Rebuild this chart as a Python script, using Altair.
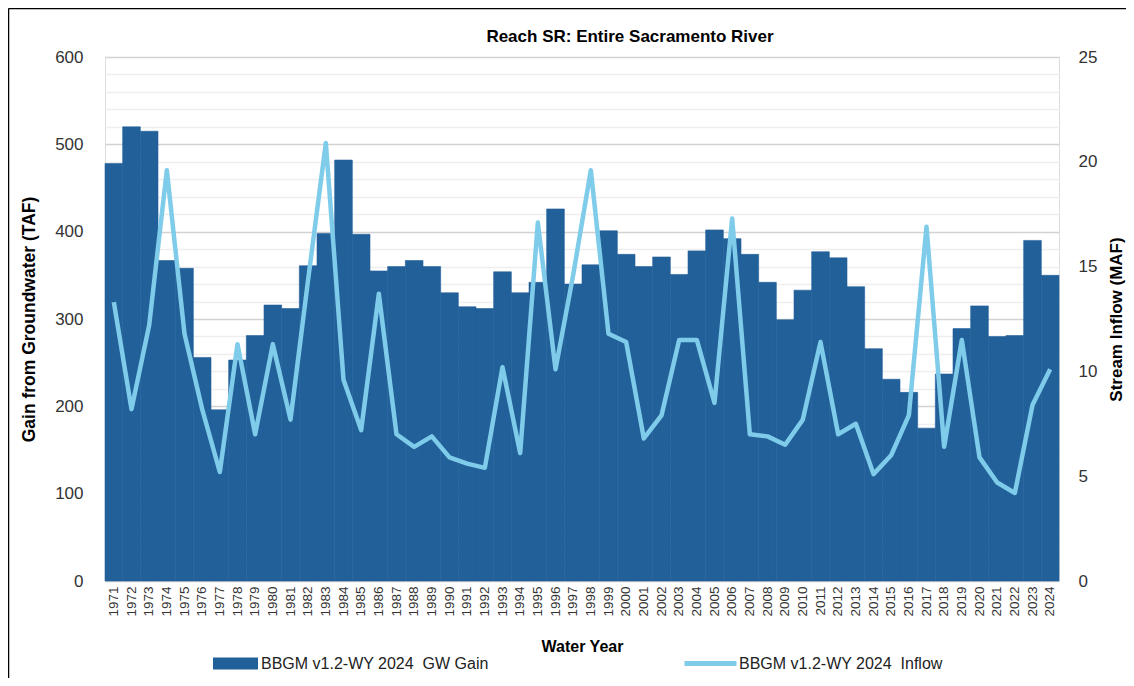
import altair as alt
import pandas as pd

years = list(range(1971, 2025))
gw_gain = [478, 520, 515, 367, 358, 256, 196, 253, 281, 316,
           312, 361, 398, 482, 397, 355, 360, 367, 360, 330,
           314, 312, 354, 330, 342, 426, 340, 362, 401, 374,
           360, 371, 351, 378, 402, 392, 374, 342, 299, 333,
           377, 370, 337, 266, 231, 216, 175, 237, 289, 315,
           280, 281, 390, 350]
inflow = [13.3, 8.2, 12.2, 19.6, 11.8, 8.2, 5.2, 11.3, 7.0, 11.3,
          7.7, 14.4, 20.9, 9.6, 7.2, 13.7, 7.0, 6.4, 6.9, 5.9,
          5.6, 5.4, 10.2, 6.1, 17.1, 10.1, 14.6, 19.6, 11.8, 11.4,
          6.8, 7.9, 11.5, 11.5, 8.5, 17.3, 7.0, 6.9, 6.5, 7.7,
          11.4, 7.0, 7.5, 5.1, 6.0, 7.9, 16.9, 6.4, 11.5, 5.9,
          4.7, 4.2, 8.4, 10.1]
series_gain = "BBGM v1.2-WY 2024\u00a0\u00a0GW Gain"
series_inflow = "BBGM v1.2-WY 2024\u00a0\u00a0Inflow"
chart_title = "Reach SR: Entire Sacramento River"
left_ticks = list(range(0, 601, 20))
right_ticks = [0, 5, 10, 15, 20, 25]

BAR = "#22609A"
LINE = "#7FCBEA"
FONT = "Liberation Sans"

df = pd.DataFrame({
    "Year": [str(y) for y in years],
    "Gain": gw_gain,
    "Inflow": inflow,
    "s1": series_gain,
    "s2": series_inflow,
})

x_enc = alt.X(
    "Year:O",
    scale=alt.Scale(paddingInner=0, paddingOuter=0),
    axis=alt.Axis(
        title="Water Year", labelAngle=270, labelFont=FONT, labelFontSize=13.5,
        labelColor="#333333", labelPadding=5, ticks=False, domain=False,
        titleFont=FONT, titleFontSize=16, titleFontWeight="bold",
        titleColor="#000000", titlePadding=22,
    ),
)

bars = alt.Chart(df).mark_bar(stroke=BAR, strokeWidth=0.6).encode(
    x=x_enc,
    y=alt.Y(
        "Gain:Q",
        scale=alt.Scale(domain=[0, 600], nice=False),
        axis=alt.Axis(
            title="Gain from Groundwater (TAF)", values=left_ticks,
            labelExpr="datum.value % 100 === 0 ? datum.label : ''",
            gridColor={"condition": {"test": "datum.value % 100 === 0", "value": "#D2D2D2"}, "value": "#EEEEEE"},
            gridWidth=1.5, ticks=False, domain=False,
            labelFont=FONT, labelFontSize=17, labelColor="#333333", labelPadding=22,
            titleFont=FONT, titleFontSize=17.5, titleFontWeight="bold",
            titleColor="#000000", titlePadding=16,
        ),
    ),
    fill=alt.Fill(
        "s1:N", scale=alt.Scale(range=[BAR]),
        legend=alt.Legend(
            title=None, orient="none", legendX=108, legendY=584,
            symbolType="M-1,-0.27H1V0.27H-1Z", symbolSize=2025, symbolStrokeWidth=0,
            labelFont=FONT, labelFontSize=16, labelColor="#222222", labelOffset=3,
            labelLimit=0, padding=0,
        ),
    ),
)

line = alt.Chart(df).mark_line(strokeWidth=4.5, strokeJoin="round").encode(
    x=alt.X("Year:O"),
    y=alt.Y(
        "Inflow:Q",
        scale=alt.Scale(domain=[0, 25], nice=False),
        axis=alt.Axis(
            orient="right", title="Stream Inflow (MAF)", values=right_ticks,
            grid=False, ticks=False, domain=False,
            labelFont=FONT, labelFontSize=17, labelColor="#333333", labelPadding=19,
            titleFont=FONT, titleFontSize=17, titleFontWeight="bold",
            titleColor="#000000", titlePadding=29, titleAngle=270,
        ),
    ),
    stroke=alt.Stroke(
        "s2:N", scale=alt.Scale(range=[LINE]),
        legend=alt.Legend(
            title=None, orient="none", legendX=577, legendY=578,
            symbolType="stroke", symbolSize=2704, symbolStrokeWidth=5,
            labelFont=FONT, labelFontSize=16, labelColor="#222222", labelOffset=0,
            labelLimit=0, padding=0,
        ),
    ),
)

one = pd.DataFrame({"t": [chart_title]})
title_mark = alt.Chart(one).mark_text(
    font=FONT, fontSize=17, fontWeight="bold", color="#000000",
    align="center", baseline="middle",
).encode(text="t:N", x=alt.value(525), y=alt.value(-20))

frame_top = alt.Chart(one).mark_rule(color="#000000", strokeWidth=1.5).encode(
    x=alt.value(-96.5), x2=alt.value(1080), y=alt.value(-48.5)
)
frame_left = alt.Chart(one).mark_rule(color="#000000", strokeWidth=1.5).encode(
    x=alt.value(-96.5), y=alt.value(-48.5), y2=alt.value(640)
)

chart = alt.layer(bars, line, title_mark, frame_top, frame_left).resolve_scale(
    y="independent", fill="independent", stroke="independent"
).properties(
    width=954,
    height=524,
    autosize=alt.AutoSizeParams(type="none"),
    padding={"left": 97, "top": 49, "right": 67, "bottom": 97},
).configure_view(
    stroke="#000000", strokeWidth=1.5
).configure(background="#ffffff")

chart.save("out.html", embed_options={"renderer": "svg", "actions": False})
